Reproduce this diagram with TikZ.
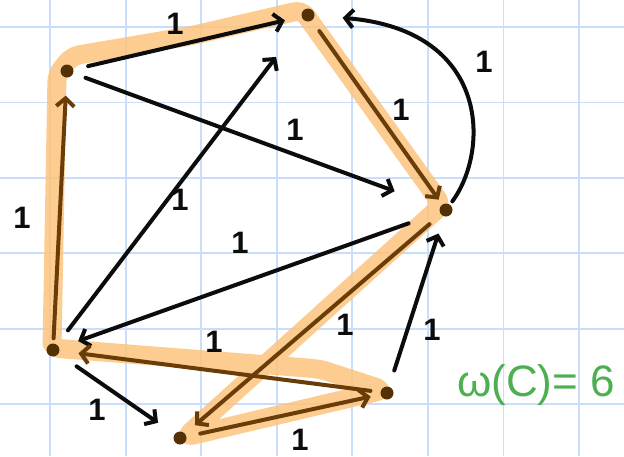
\documentclass[tikz,border=0pt]{standalone}
\usepackage{fontspec}
\setmainfont{Liberation Sans}
\usetikzlibrary{arrows.meta}
\definecolor{gridblue}{RGB}{200,222,250}
\definecolor{hlorange}{RGB}{252,196,125}
\definecolor{ink}{RGB}{12,12,12}
\definecolor{brownink}{RGB}{105,60,8}
\definecolor{wgreen}{RGB}{76,175,80}
\tikzset{
  dot/.style={circle, fill=brownink!80!black, inner sep=0pt, minimum size=13pt},
  edgeline/.style={line width=4pt, draw=ink, line cap=round, line join=round,
    -{Straight Barb[length=8pt,width=18pt]}},
  cycline/.style={edgeline, draw=brownink},
  lab/.style={font=\bfseries\fontsize{31}{31}\selectfont, text=ink, inner sep=0pt},
  gridline/.style={draw=gridblue, line width=1.8pt},
  highlight/.style={draw=hlorange, line width=19pt, line cap=round, line join=round, opacity=0.85, rounded corners=8pt}
}
\begin{document}
\begin{tikzpicture}[x=1pt,y=-1pt]
\useasboundingbox (0,0) rectangle (624,456);
\fill[white] (0,0) rectangle (624,456);
% grid
\foreach \gx in {50,125.6,201.1,276.7,352.3,427.8,503.4,579} {\draw[gridline] (\gx,0) -- (\gx,456);}
\foreach \gy in {27,102.4,177.8,253.2,328.6,404} {\draw[gridline] (0,\gy) -- (624,\gy);}
% highlighted cycle
\draw[highlight] (52,348) -- (57,74) -- (72,56) -- (190,36) -- (302,10) -- (442,205) -- (185,437) -- (384,390) -- (320,369) -- (52,348) -- cycle;
% vertices
\node[dot] (A) at (67,71) {};
\node[dot] (B) at (308,15) {};
\node[dot] (C) at (446,210) {};
\node[dot] (D) at (53,350) {};
\node[dot] (E) at (180,438) {};
\node[dot] (F) at (387,393) {};
% non-cycle edges
\draw[edgeline, shorten <=13pt, shorten >=48pt] (A) -- (C);
\draw[edgeline, shorten <=18pt, shorten >=46pt] (D) -- (B);
\draw[edgeline, shorten <=33pt, shorten >=20pt] (C) -- (D);
\draw[edgeline, shorten <=4pt, shorten >=28pt] (C) .. controls (490,150) and (490,30) .. (B);
\draw[edgeline, shorten <=22pt, shorten >=20pt] (D) -- (E);
\draw[edgeline, shorten <=17pt, shorten >=18pt] (F) -- (C);
% cycle edges
\draw[edgeline, shorten <=15pt, shorten >=17pt] (A) -- (B);
\draw[cycline, shorten <=13pt, shorten >=6pt] (B) -- (C);
\draw[cycline, shorten <=15pt, shorten >=13pt] (C) -- (E);
\draw[cycline, shorten <=14pt, shorten >=10pt] (E) -- (F);
\draw[cycline, shorten <=10pt, shorten >=19pt] (F) -- (D);
\draw[cycline, shorten <=5pt, shorten >=18pt] (D) -- (A);
% weights
\node[lab] (lAB) at (175,24) {1};
\node[lab] (lAC) at (295,130) {1};
\node[lab] (lDA) at (22,218) {1};
\node[lab] (lDB) at (180,200) {1};
\node[lab] (lCD) at (240,243) {1};
\node[lab] (lBC) at (401,110) {1};
\node[lab] (lCB) at (484,62) {1};
\node[lab] (lFD) at (214,342) {1};
\node[lab] (lDE) at (97,410) {1};
\node[lab] (lCE) at (345,325) {1};
\node[lab] (lEF) at (300,440) {1};
\node[lab] (lFC) at (432,330) {1};
% total weight
\node[font=\fontsize{44}{44}\selectfont, text=wgreen, inner sep=0pt] (w) at (536,385) {ω(C)= 6};
\end{tikzpicture}
\end{document}
